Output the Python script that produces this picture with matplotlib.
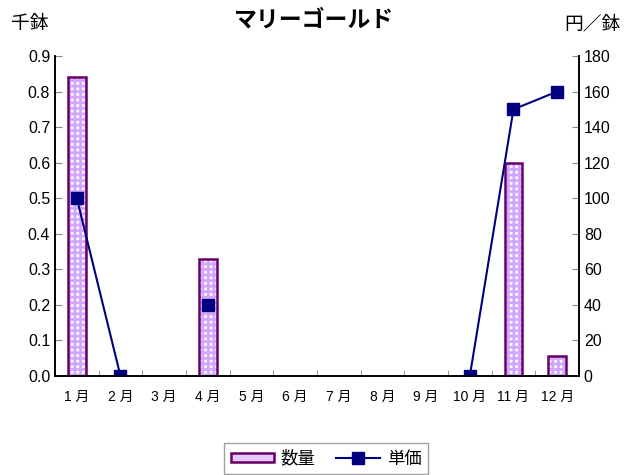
import numpy as np
import matplotlib
matplotlib.use("Agg")
import matplotlib.pyplot as plt
from matplotlib.patches import Patch

plt.rcParams['font.family'] = ['Liberation Sans', 'Noto Sans CJK JP']
plt.rcParams['hatch.linewidth'] = 2.0

months = ["1月", "2月", "3月", "4月", "5月", "6月", "7月", "8月", "9月", "10月", "11月", "12月"]
quantity = [0.84, 0, 0, 0.33, 0, 0, 0, 0, 0, 0, 0.6, 0.055]   # 千鉢
unit_price = [100, 0, np.nan, 40, np.nan, np.nan, np.nan, np.nan, np.nan, 0, 150, 160]  # 円／鉢

x = np.arange(len(months))
shown = [q > 0 for q in quantity]
xb = x[shown]
qb = np.array(quantity)[shown]

fig = plt.figure(figsize=(6.27, 4.75), dpi=100)
ax = fig.add_axes([0.0877, 0.2084, 0.8357, 0.6737])
ax2 = ax.twinx()

# checkered fill, then outline
ax.bar(xb, qb, width=0.4, facecolor='white', edgecolor='#d2a6ff',
       linewidth=0, hatch='+++')
ax.bar(xb, qb, width=0.4, facecolor='none', edgecolor='#660066', linewidth=1.8)

ax2.plot(x, unit_price, color='#000080', lw=1.5, marker='s', markersize=8,
         label='単価')

ax.set_xlim(-0.5, 11.5)
ax.set_ylim(0, 0.9)
ax.set_yticks(np.arange(0, 0.91, 0.1))
ax.set_yticklabels([f"{v:.1f}" for v in np.arange(0, 0.91, 0.1)], fontsize=11.5)
ax2.set_ylim(0, 180)
ax2.set_yticks(np.arange(0, 181, 20))
ax2.set_yticklabels([str(v) for v in range(0, 181, 20)], fontsize=11.5)

ax.set_xticks(x)
ax.set_xticklabels([m.replace("月", " 月") for m in months], fontsize=10)
ax.set_xticks(np.arange(-0.5, 12, 1), minor=True)
ax.tick_params(axis='x', which='major', length=0, pad=10)
ax.tick_params(axis='x', which='minor', direction='in', length=4, color='#888888')
ax.tick_params(axis='y', direction='in', length=5, color='#888888')
ax2.tick_params(axis='y', direction='in', length=5, color='#888888')

for a in (ax, ax2):
    a.spines['top'].set_visible(False)
    for s in ('left', 'right', 'bottom'):
        a.spines[s].set_linewidth(1.2)

fig.text(0.5, 0.958, "マリーゴールド", ha='center', va='center', fontsize=16.5,
         fontweight='bold')
fig.text(0.047, 0.948, "千鉢", ha='center', va='center', fontsize=13.5)
fig.text(0.945, 0.948, "円／鉢", ha='center', va='center', fontsize=13.5)

bar_handle = Patch(facecolor='#e4c8ff', edgecolor='#660066', linewidth=1.8)
h2, l2 = ax2.get_legend_handles_labels()
leg = fig.legend([bar_handle] + h2, ['数量'] + l2, loc='center',
                 bbox_to_anchor=(0.52, 0.035), ncol=2, fontsize=12.5,
                 frameon=True, fancybox=False, edgecolor='#888888',
                 handlelength=2.5, handleheight=0.5, columnspacing=1.2,
                 handletextpad=0.4)
leg.get_frame().set_linewidth(1.0)

fig.savefig("out.png", dpi=100)
